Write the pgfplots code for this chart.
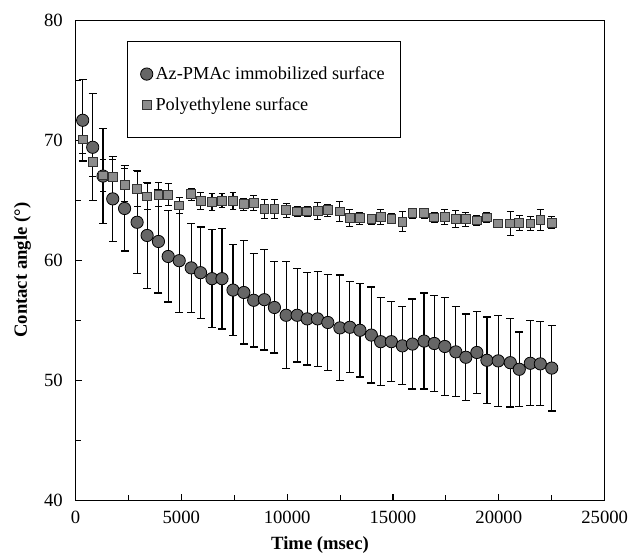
\documentclass[border=0pt]{standalone}
\usepackage{fontspec}
\setmainfont{Liberation Serif}
\usepackage{pgfplots}
\pgfplotsset{compat=1.18}

% t (msec), circle mean/err, square mean/err
\pgfplotstableread{
t     a      ea    p      ep
341   71.70  3.40  70.10  1.20
814   69.45  4.45  68.20  1.15
1302  67.05  3.95  67.10  1.30
1761  65.15  3.55  67.00  1.40
2320  64.35  3.55  66.30  1.40
2912  63.20  4.30  65.95  1.45
3385  62.10  4.40  65.35  1.10
3920  61.60  4.30  65.50  1.00
4380  60.35  3.80  65.50  0.90
4901  60.00  4.30  64.60  0.70
5469  59.40  3.70  65.55  0.50
5909  59.00  3.80  65.00  0.70
6449  58.50  4.10  64.90  0.70
6922  58.50  4.20  65.00  0.60
7443  57.55  3.80  64.95  0.70
7955  57.35  4.30  64.70  0.50
8419  56.70  3.90  64.80  0.60
8925  56.75  4.20  64.30  0.80
9399  56.10  3.80  64.30  0.80
9953  55.45  4.45  64.20  0.60
10473 55.45  3.90  64.10  0.40
10947 55.15  3.85  64.10  0.40
11435 55.15  3.95  64.15  0.70
11922 54.85  4.00  64.20  0.50
12491 54.40  4.40  64.10  0.80
12964 54.45  3.80  63.55  0.70
13438 54.20  3.90  63.55  0.50
13977 53.80  4.00  63.45  0.40
14418 53.25  3.65  63.65  0.60
14924 53.25  3.35  63.50  0.40
15445 52.90  3.25  63.25  0.85
15919 53.05  3.75  63.95  0.40
16468 53.30  4.00  63.95  0.40
16951 53.10  4.00  63.60  0.40
17448 52.85  4.10  63.65  0.60
17969 52.40  3.75  63.50  0.70
18442 51.95  3.60  63.45  0.60
18963 52.35  3.40  63.35  0.40
19437 51.70  3.60  63.60  0.40
19972 51.65  3.80  63.10  0.30
20540 51.50  3.70  63.10  1.00
20966 50.95  3.10  63.15  0.60
21487 51.45  3.55  63.10  0.60
21960 51.40  3.50  63.40  0.90
22500 51.05  3.57  63.15  0.50
}\data

\begin{document}
\begin{tikzpicture}
\useasboundingbox (-56.6pt,-40.7pt) rectangle (415.9pt,375.5pt);
\begin{axis}[
  at={(0,0)}, anchor=south west,
  scale only axis,
  width=396.9pt, height=360pt,
  xmin=0, xmax=25000, ymin=40, ymax=80,
  xtick={0,5000,...,25000},
  ytick={40,50,...,80},
  minor x tick num=1,
  minor y tick num=1,
  tick align=inside,
  xtick pos=bottom, ytick pos=left,
  major tick length=5pt, minor tick length=4pt,
  tick style={black, line width=0.8pt},
  axis line style={line width=0.9pt},
  scaled x ticks=false,
  /pgf/number format/assume math mode=true,
  /pgf/number format/set thousands separator={},
  tick label style={font=\fontsize{14}{16}\selectfont},
  xticklabel style={yshift=-4pt},
  yticklabel style={xshift=-6pt},
  xlabel={Time (msec)},
  ylabel={Contact angle (°)},
  label style={font=\bfseries\fontsize{14}{16}\selectfont},
  xlabel style={at={(ticklabel cs:0.462)}, yshift=-3pt},
  ylabel style={at={(ticklabel cs:0.48)}, yshift=3pt},
  legend style={at={(0.097,0.958)}, anchor=north west, draw=black,
    line width=0.7pt, font=\fontsize{13.7}{16}\selectfont,
    inner xsep=10pt, inner ysep=17pt, row sep=8pt,
    column 2/.style={nodes={text depth=6pt}}},
  legend cell align=left,
]
\addplot+[only marks, mark=*, mark size=4.6pt,
  mark options={fill=black!60, draw=black, line width=0.6pt},
  error bars/.cd, y dir=both, y explicit,
  error bar style={black, line width=0.9pt},
  error mark options={rotate=90, mark size=3pt, black, line width=0.9pt}]
  table[x=t, y=a, y error=ea] {\data};
\addlegendentry{Az-PMAc immobilized surface}
\addplot+[only marks, mark=square*, mark size=3.3pt,
  mark options={fill=black!45, draw=black!80, line width=0.6pt},
  error bars/.cd, y dir=both, y explicit,
  error bar style={black, line width=0.8pt},
  error mark options={rotate=90, mark size=2.6pt, black, line width=0.8pt}]
  table[x=t, y=p, y error=ep] {\data};
\addlegendentry{Polyethylene surface}
\end{axis}
\end{tikzpicture}
\end{document}
